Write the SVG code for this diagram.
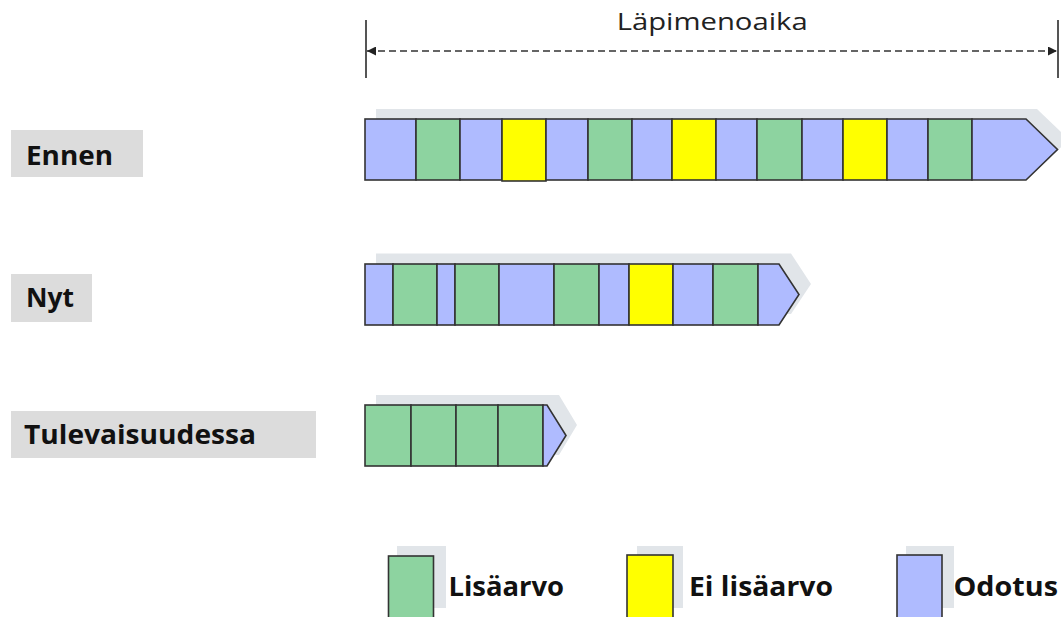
<svg xmlns="http://www.w3.org/2000/svg" width="1061" height="617" viewBox="0 0 1061 617">
  <defs>
    <style>
      .b { fill: #AFBBFF; stroke: #333; stroke-width: 1.6; }
      .g { fill: #8DD3A0; stroke: #333; stroke-width: 1.6; }
      .y { fill: #FFFF00; stroke: #333; stroke-width: 1.6; }
      .sh { fill: #E1E5E9; stroke: none; }
      .lbox { fill: #DCDCDC; }
      .lbl { font-family: "Open Sans", "Liberation Sans", sans-serif; font-weight: bold; font-size: 27px; fill: #111; }
      .leg { font-family: "Open Sans", "Liberation Sans", sans-serif; font-weight: bold; font-size: 26px; fill: #111; }
      .title { font-family: "Open Sans", "Liberation Sans", sans-serif; font-size: 23.5px; fill: #222; }
      .tick { stroke: #555; stroke-width: 2; }
      .dash { stroke: #333; stroke-width: 1.5; stroke-dasharray: 7 4; fill: none; }
    </style>
    <marker id="ah" viewBox="0 0 10 10" refX="10" refY="5" markerWidth="9" markerHeight="9" markerUnits="userSpaceOnUse" orient="auto-start-reverse">
      <path d="M0,0 L10,5 L0,10 z" fill="#222"/>
    </marker>
  </defs>

  <g id="leadtime">
    <line class="tick" x1="366" y1="20" x2="366" y2="78"/>
    <line class="tick" x1="1058" y1="20" x2="1058" y2="78"/>
    <text class="title" x="616.7" y="30" textLength="191" lengthAdjust="spacingAndGlyphs">Läpimenoaika</text>
  </g>
  <g id="connectors">
    <line class="dash" x1="367" y1="51" x2="1057" y2="51" marker-start="url(#ah)" marker-end="url(#ah)"/>
  </g>

  <g id="label-ennen">
    <rect class="lbox" x="11" y="130" width="132" height="47"/>
    <text class="lbl" x="26" y="165" textLength="87" lengthAdjust="spacingAndGlyphs">Ennen</text>
  </g>
  <g id="label-nyt">
    <rect class="lbox" x="11" y="274" width="81" height="48"/>
    <text class="lbl" x="26" y="306.5" textLength="48" lengthAdjust="spacingAndGlyphs">Nyt</text>
  </g>
  <g id="label-tulevaisuudessa">
    <rect class="lbox" x="11" y="411" width="305" height="47"/>
    <text class="lbl" x="24" y="444" textLength="232" lengthAdjust="spacingAndGlyphs">Tulevaisuudessa</text>
  </g>

  <g id="bar-ennen">
    <polygon class="sh" points="376,109 1037,109 1069,139.5 1037,170 376,170"/>
    <rect class="b" x="365" y="119" width="51" height="61"/>
    <rect class="g" x="416" y="119" width="44" height="61"/>
    <rect class="b" x="460" y="119" width="42" height="61"/>
    <rect class="y" x="502" y="119" width="44" height="62"/>
    <rect class="b" x="546" y="119" width="42" height="61"/>
    <rect class="g" x="588" y="119" width="44" height="61"/>
    <rect class="b" x="632" y="119" width="40" height="61"/>
    <rect class="y" x="672" y="119" width="44" height="61"/>
    <rect class="b" x="716" y="119" width="41" height="61"/>
    <rect class="g" x="757" y="119" width="45" height="61"/>
    <rect class="b" x="802" y="119" width="41" height="61"/>
    <rect class="y" x="843" y="119" width="44" height="61"/>
    <rect class="b" x="887" y="119" width="41" height="61"/>
    <rect class="g" x="928" y="119" width="44" height="61"/>
    <polygon class="b" points="972,119 1026,119 1057.5,149.5 1026,180 972,180"/>
  </g>

  <g id="bar-nyt">
    <polygon class="sh" points="376,253.5 791,253.5 811,284 791,314 376,314"/>
    <rect class="b" x="365" y="264" width="28" height="61"/>
    <rect class="g" x="393" y="264" width="44" height="61"/>
    <rect class="b" x="437" y="264" width="18" height="61"/>
    <rect class="g" x="455" y="264" width="44" height="61"/>
    <rect class="b" x="499" y="264" width="55" height="61"/>
    <rect class="g" x="554" y="264" width="45" height="61"/>
    <rect class="b" x="599" y="264" width="30" height="61"/>
    <rect class="y" x="629" y="264" width="44" height="61"/>
    <rect class="b" x="673" y="264" width="40" height="61"/>
    <rect class="g" x="713" y="264" width="45" height="61"/>
    <polygon class="b" points="758,264 779,264 799,294.5 779,325 758,325"/>
  </g>

  <g id="bar-tulevaisuudessa">
    <polygon class="sh" points="376,395 559,395 577,425 559,455 376,455"/>
    <rect class="g" x="365" y="405" width="46" height="61"/>
    <rect class="g" x="411" y="405" width="45" height="61"/>
    <rect class="g" x="456" y="405" width="42" height="61"/>
    <rect class="g" x="498" y="405" width="45" height="61"/>
    <polygon class="b" points="543,405 547,405 566,435.5 547,466 543,466"/>
  </g>

  <g id="legend-lisaarvo">
    <rect class="sh" x="397" y="546" width="49" height="62"/>
    <rect class="g" x="388.5" y="556" width="45" height="64"/>
    <text class="leg" x="448.5" y="596" textLength="115.5" lengthAdjust="spacingAndGlyphs">Lisäarvo</text>
  </g>
  <g id="legend-ei-lisaarvo">
    <rect class="sh" x="637" y="546" width="46" height="62"/>
    <rect class="y" x="627" y="555" width="46" height="65"/>
    <text class="leg" x="689" y="596" textLength="144" lengthAdjust="spacingAndGlyphs">Ei lisäarvo</text>
  </g>
  <g id="legend-odotus">
    <rect class="sh" x="906" y="546" width="48" height="62"/>
    <rect class="b" x="897" y="555" width="45" height="65"/>
    <text class="leg" x="953.5" y="596" textLength="104.5" lengthAdjust="spacingAndGlyphs">Odotus</text>
  </g>
</svg>
